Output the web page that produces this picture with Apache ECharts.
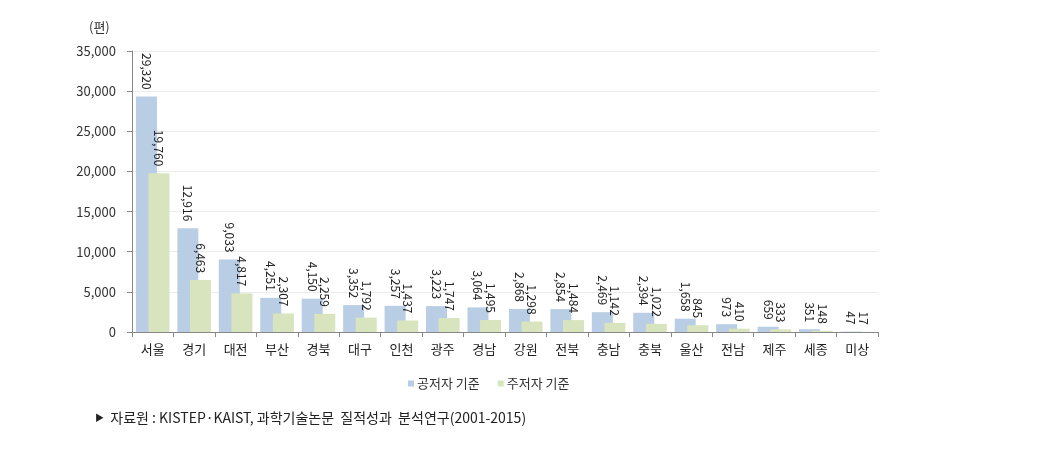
<!DOCTYPE html>
<html><head><meta charset="utf-8">
<script src="https://cdn.jsdelivr.net/npm/echarts@6/dist/echarts.min.js"></script>
<style>html,body{margin:0;padding:0;background:#fff}#c{width:1040px;height:451px}</style>
</head><body><div id="c"></div>
<script>
const categories = ['서울','경기','대전','부산','경북','대구','인천','광주','경남','강원','전북','충남','충북','울산','전남','제주','세종','미상'];
const coAuthor = [29320,12916,9033,4251,4150,3352,3257,3223,3064,2868,2854,2469,2394,1658,973,659,351,47];
const mainAuthor = [19760,6463,4817,2307,2259,1792,1437,1747,1495,1298,1484,1142,1022,845,410,333,148,17];
const yTicks = [0,5000,10000,15000,20000,25000,30000,35000];
const FONT = '"Noto Sans CJK KR", sans-serif';
const chart = echarts.init(document.getElementById('c'));
const lbl = {
  show: true, position: 'top', rotate: -90, align: 'right', verticalAlign: 'middle',
  distance: 7, fontSize: 12, color: '#222', fontFamily: FONT,
  formatter: p => p.value.toLocaleString('en-US')
};
chart.setOption({
  animation: false,
  textStyle: {fontFamily: FONT},
  grid: {left: 132, right: 162, top: 51, bottom: 119},
  legend: {
    data: ['공저자 기준','주저자 기준'], left: 403, top: 372,
    itemWidth: 6, itemHeight: 6, itemGap: 18, icon: 'rect',
    textStyle: {fontSize: 13, color: '#333', fontFamily: FONT, padding: [0,0,0,-2]}
  },
  xAxis: {
    type: 'category', data: categories,
    axisLine: {lineStyle: {color: '#888'}},
    axisTick: {show: true, length: 5, lineStyle: {color: '#888'}},
    axisLabel: {fontSize: 13, color: '#222', margin: 11, fontFamily: FONT}
  },
  yAxis: {
    type: 'value', min: yTicks[0], max: yTicks[yTicks.length-1], interval: 5000,
    axisLine: {show: true, lineStyle: {color: '#888'}},
    axisTick: {show: true, length: 5, lineStyle: {color: '#888'}},
    axisLabel: {fontSize: 13, color: '#333', margin: 16, fontFamily: FONT,
      formatter: v => v.toLocaleString('en-US')},
    splitLine: {lineStyle: {color: '#ececec'}}
  },
  graphic: [
    {type: 'text', left: 89, top: 21, style: {text: '(편)', fontSize: 13, fill: '#333', fontFamily: FONT}},
    {type: 'text', left: 95, top: 411, style: {
      text: '{a|▶}  자료원 : KISTEP·KAIST, 과학기술논문  질적성과  분석연구(2001-2015)',
      fontSize: 14, fill: '#222', fontFamily: FONT,
      rich: {a: {fontSize: 9, fill: '#222', fontFamily: FONT}}}}
  ],
  series: [
    {name: '공저자 기준', type: 'bar', data: coAuthor, barWidth: 21, barGap: '-40%', barCategoryGap: '17%',
     itemStyle: {color: '#B9CDE5'}, label: lbl},
    {name: '주저자 기준', type: 'bar', data: mainAuthor, barWidth: 21,
     itemStyle: {color: '#D7E4BD'}, label: lbl}
  ]
});
</script></body></html>
